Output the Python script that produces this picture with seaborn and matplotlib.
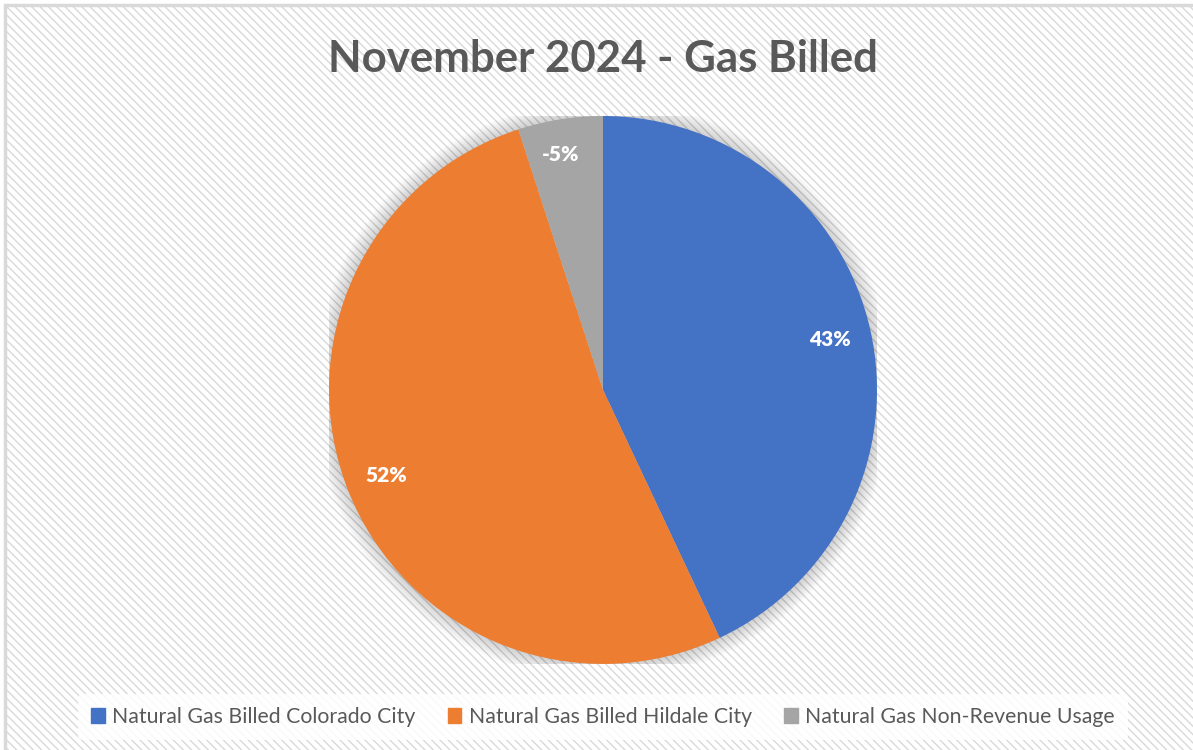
import matplotlib.pyplot as plt
import matplotlib.patches as mpatches
import seaborn as sns
import numpy as np

sns.set_theme(style="white")
plt.rcParams['font.family'] = ['Lato', 'DejaVu Sans']
plt.rcParams['hatch.color'] = '#F3F3F3'
plt.rcParams['hatch.linewidth'] = 1.0

# data (share of gas billed, non-revenue is negative)
categories = ["Natural Gas Billed Colorado City",
              "Natural Gas Billed Hildale City",
              "Natural Gas Non-Revenue Usage"]
values = [43, 52, -5]
colors = ["#4472C4", "#ED7D31", "#A5A5A5"]

sizes = np.abs(values)
total = sizes.sum()
pct_labels = iter([f"{v / total * 100:.0f}%" for v in values])

fig = plt.figure(figsize=(11.93, 7.5), dpi=100)

# chart-area background with fine diagonal pattern; border shows on left/top only
bg = mpatches.Rectangle((0.0046, -0.02), 1.02, 1.0133, transform=fig.transFigure,
                        facecolor="white", edgecolor="#D9D9D9", linewidth=2.5,
                        hatch="\\\\\\\\", zorder=-5)
fig.patches.append(bg)

ax = fig.add_axes([0.2758, 0.1147, 0.4593, 0.7307])
ax.axis("off")
ax.patch.set_visible(False)

# soft shadow around the pie
for r in np.linspace(1.06, 1.0, 12):
    ax.add_patch(mpatches.Circle((0, 0), r, facecolor="#000000", alpha=0.016,
                                 edgecolor="none", zorder=0))

wedges, texts, autotexts = ax.pie(
    sizes, colors=colors, startangle=90, counterclock=False, radius=1.0,
    autopct=lambda p: next(pct_labels), pctdistance=0.85,
    wedgeprops=dict(linewidth=0),
    textprops=dict(color="white", fontsize=15, fontweight="heavy"),
)
for w in wedges:
    w.set_zorder(2)
for t in autotexts:
    t.set_zorder(3)
autotexts[2].set_position((autotexts[2].get_position()[0] - 0.02,
                           autotexts[2].get_position()[1] + 0.02))

ax.set_xlim(-1, 1)
ax.set_ylim(-1, 1)
ax.set_aspect("equal")

fig.text(0.5054, 0.921, "November 2024 - Gas Billed", ha="center", va="center",
         fontsize=31.5, fontweight="bold", color="#595959")

handles = [mpatches.Patch(color=c, label=l) for c, l in zip(colors, categories)]
leg = fig.legend(handles=handles, loc="center", bbox_to_anchor=(0.5054, 0.044),
                 ncol=3, frameon=True, fontsize=15.3, handlelength=0.65,
                 handleheight=0.65, handletextpad=0.35, columnspacing=1.5,
                 borderpad=0.6, labelcolor="#595959")
leg.get_frame().set_facecolor("white")
leg.get_frame().set_edgecolor("none")
leg.get_frame().set_alpha(0.85)

fig.savefig("out.png", dpi=100)
